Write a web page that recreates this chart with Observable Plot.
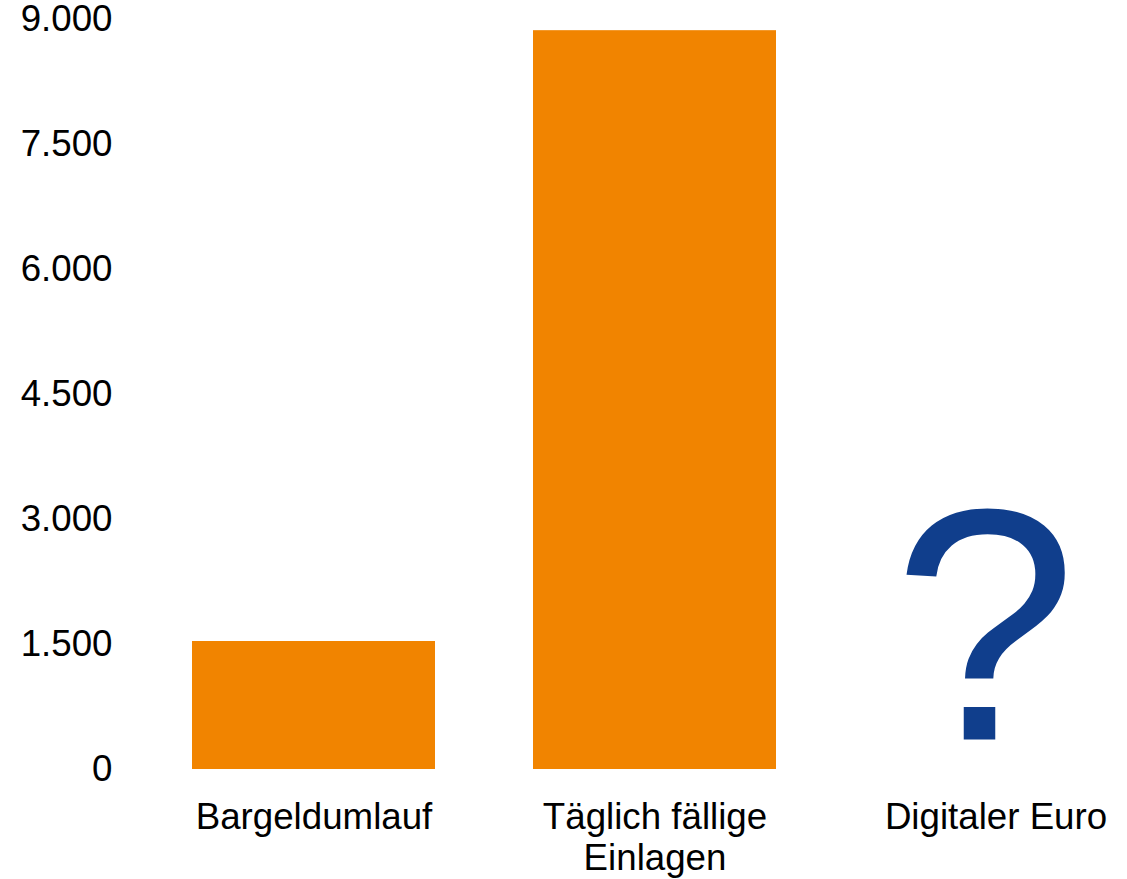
<!DOCTYPE html>
<html>
<head>
<meta charset="utf-8">
<script src="https://cdn.jsdelivr.net/npm/d3@7"></script>
<script src="https://cdn.jsdelivr.net/npm/@observablehq/plot@0.6"></script>
<style>
  html, body { margin: 0; padding: 0; background: #fff; }
  #chart svg { display: block; }
</style>
</head>
<body>
<div id="chart"></div>
<script>
const categories = ["Bargeldumlauf", "Täglich fällige Einlagen", "Digitaler Euro"];
const categoryLabels = ["Bargeldumlauf", "Täglich fällige\nEinlagen", "Digitaler Euro"];
const values = [1535, 8860, null];
const yTicks = [0, 1500, 3000, 4500, 6000, 7500, 9000];
const unknownCategory = ["Digitaler Euro"];
const unknownSymbol = ["?"];

const bars = categories.map((c, i) => ({category: c, value: values[i]})).filter(d => d.value != null);
const marks = unknownCategory.map((c, i) => ({category: c, symbol: unknownSymbol[i]}));
const labelOf = new Map(categories.map((c, i) => [c, categoryLabels[i]]));
const fmt = d => d3.format(",")(d).replace(/,/g, ".");

const chart = Plot.plot({
  width: 1127,
  height: 879,
  marginTop: 18.5,
  marginBottom: 110,
  marginLeft: 112,
  marginRight: 0,
  style: {fontFamily: "'Liberation Sans', Arial, sans-serif", background: "#fff", color: "#000"},
  x: {domain: categories, range: [192, 1117], paddingInner: 0.2874, paddingOuter: 0},
  y: {domain: [0, 9000]},
  marks: [
    Plot.barY(bars, {x: "category", y: "value", fill: "#f18400"}),
    Plot.text(marks, {x: "category", y: () => 0, text: "symbol", fontSize: 331, fill: "#103e8c",
      lineAnchor: "bottom", dy: -30, dx: -11, fontFamily: "'Liberation Sans', Arial, sans-serif"}),
    Plot.axisY({ticks: yTicks, tickFormat: fmt, tickSize: 0, tickPadding: 0, fontSize: 36.7, label: null, fill: "#000"}),
    Plot.axisX({tickSize: 0, tickPadding: 30, fontSize: 36.7, lineHeight: 1.13, label: null,
      tickFormat: d => labelOf.get(d), fill: "#000"})
  ]
});
document.getElementById("chart").appendChild(chart);
</script>
</body>
</html>
